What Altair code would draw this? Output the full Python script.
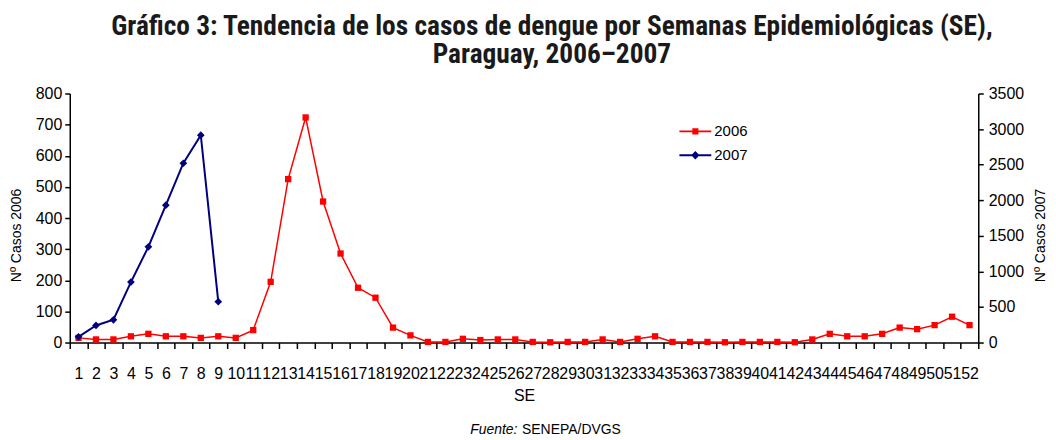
import altair as alt
import pandas as pd

# ---- data ----
weeks = list(range(1, 53))
cases_2006 = [15, 10, 10, 20, 28, 20, 20, 15, 20, 15,
              40, 195, 525, 723, 453, 286, 176, 144, 48, 23,
              2, 2, 12, 8, 10, 10, 2, 1, 2, 2,
              10, 2, 12, 20, 2, 2, 2, 1, 2, 2,
              2, 1, 10, 28, 20, 20, 28, 48, 43, 56,
              83, 56]
weeks_2007 = list(range(1, 10))
cases_2007 = [80, 240, 320, 850, 1345, 1930, 2520, 2915, 575]
series_names = ["2006", "2007"]
series_colors = ["#FF0000", "#000080"]
ticks_2006 = [0, 100, 200, 300, 400, 500, 600, 700, 800]
ticks_2007 = [0, 500, 1000, 1500, 2000, 2500, 3000, 3500]
title_lines = ["Gráfico 3: Tendencia de los casos de dengue por Semanas Epidemiológicas (SE),",
               "Paraguay, 2006\u20132007"]
source_label = ["Fuente:"]
source_text = ["SENEPA/DVGS"]

df06 = pd.DataFrame({"SE": weeks, "casos": cases_2006})
df07 = pd.DataFrame({"SE": weeks_2007, "casos": cases_2007})
df_leg = pd.DataFrame({"serie": series_names})

FONT = "Liberation Sans, Arial, sans-serif"

x_enc = alt.X(
    "SE:O",
    scale=alt.Scale(domain=weeks, type="band", paddingInner=0, paddingOuter=0),
    axis=alt.Axis(
        title="SE", tickBand="extent", labelAngle=0, labelOverlap=False,
        labelFontSize=16, labelPadding=17, tickSize=6, titleFontSize=16,
        titleFontWeight="normal", titlePadding=6,
    ),
)

y06 = alt.Y(
    "casos:Q",
    scale=alt.Scale(domain=[0, 800]),
    axis=alt.Axis(
        values=ticks_2006, format="d", title="Nº Casos 2006", titleAngle=270,
        titleX=-53, titleY=142, titleAlign="center", titleBaseline="middle",
        titleFontSize=14, titleFontWeight="normal", labelFontSize=16,
        tickSize=5, labelPadding=3, orient="left",
    ),
)
y07 = alt.Y(
    "casos:Q",
    scale=alt.Scale(domain=[0, 3500]),
    axis=alt.Axis(
        values=ticks_2007, format="d", title="Nº Casos 2007", titleAngle=270,
        titleX=62, titleY=142, titleAlign="center", titleBaseline="middle",
        titleFontSize=14, titleFontWeight="normal", labelFontSize=16,
        tickSize=5, labelPadding=5, orient="right",
    ),
)

line06 = alt.Chart(df06).mark_line(color=series_colors[0], strokeWidth=1.5).encode(x=x_enc, y=y06)
pts06 = alt.Chart(df06).mark_point(color=series_colors[0], filled=True, shape="square",
                                   size=40, opacity=1).encode(x=x_enc, y=y06)

line07 = alt.Chart(df07).mark_line(color=series_colors[1], strokeWidth=2).encode(x=x_enc, y=y07)
pts07 = alt.Chart(df07).mark_point(color=series_colors[1], filled=True, shape="diamond",
                                   size=60, opacity=1).encode(x=x_enc, y=y07)

# legend: line + marker symbols (drawn shifted right inside the symbol box)
sym_2006 = "M-0.375,-0.06H1.625V0.06H-0.375Z M0.435,-0.19H0.815V0.19H0.435Z"
sym_2007 = "M-0.375,-0.06H1.625V0.06H-0.375Z M0.625,-0.26L0.885,0L0.625,0.26L0.365,0Z"
leg = alt.Legend(orient="none", legendX=602, legendY=22, title=None,
                 symbolSize=1024, labelFontSize=15, labelOffset=13,
                 rowPadding=0, padding=0, symbolOpacity=1, symbolStrokeWidth=0,
                 labelFont=FONT, labelColor="black")
legend_layer = alt.Chart(df_leg).mark_point(filled=True, clip=True).encode(
    x=alt.value(-500), y=alt.value(-500),
    color=alt.Color("serie:N", scale=alt.Scale(domain=series_names, range=series_colors), legend=leg),
    shape=alt.Shape("serie:N", scale=alt.Scale(domain=series_names, range=[sym_2006, sym_2007]), legend=leg),
)

foot1 = alt.Chart(pd.DataFrame({"t": source_label})).mark_text(
    align="left", baseline="middle", fontSize=14, fontStyle="italic", font=FONT, color="black"
).encode(text="t:N", x=alt.value(402), y=alt.value(338))
foot2 = alt.Chart(pd.DataFrame({"t": source_text})).mark_text(
    align="left", baseline="middle", fontSize=14, font=FONT, color="black"
).encode(text="t:N", x=alt.value(454), y=alt.value(338))

left = alt.layer(line06, pts06, legend_layer, foot1, foot2)
right = alt.layer(line07, pts07)

chart = alt.layer(left, right).resolve_scale(y="independent").properties(
    width=912, height=250,
    title=alt.TitleParams(text=title_lines, anchor="middle", dx=28, fontSize=27.5,
                          font="Liberation Sans Narrow, Arial Narrow, Roboto Condensed, Liberation Sans, sans-serif",
                          fontWeight="bold", color="#1a1a1a", lineHeight=28, offset=17),
    padding={"left": 62, "top": 85, "right": 70, "bottom": 97},
    autosize=alt.AutoSizeParams(type="none"),
).configure_view(stroke=None).configure_axis(
    grid=False, domainColor="black", tickColor="black", labelColor="black",
    titleColor="black", domainWidth=1.5, tickWidth=1.5, labelFont=FONT, titleFont=FONT,
)

chart.save("out.html", embed_options={"renderer": "svg", "actions": False})
